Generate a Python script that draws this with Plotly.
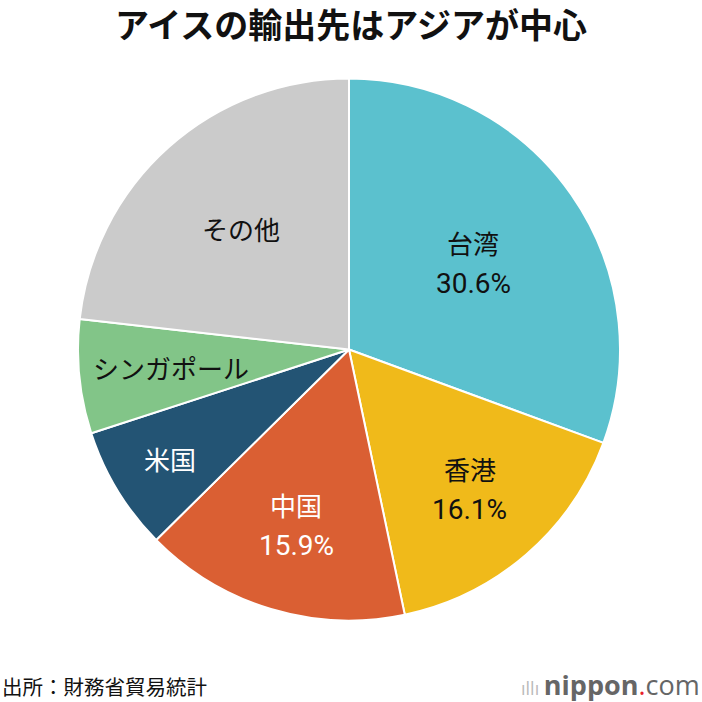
import math
import plotly.graph_objects as go

categories = ["台湾", "香港", "中国", "米国", "シンガポール", "その他"]
shares = [30.6, 16.1, 15.9, 7.4, 6.8, 23.2]
show_pct = [True, True, True, False, False, False]
colors = ["#5BC1CE", "#F0BA1A", "#DA5F33", "#235474", "#82C588", "#CBCBCB"]
text_colors = ["#111111", "#111111", "#FFFFFF", "#FFFFFF", "#111111", "#111111"]
label_radius = [0.56, 0.68, 0.675, 0.775, 0.66, 0.60]

W = H = 702
cx, cy, R = 349, 349.5, 271
FONT = "Noto Sans CJK JP"
NUMFONT = "Liberation Sans Narrow, Roboto, Noto Sans CJK JP"

fig = go.Figure(go.Pie(
    labels=categories, values=shares, sort=False, direction="clockwise",
    rotation=0, marker=dict(colors=colors, line=dict(color="white", width=2)),
    textinfo="none", hoverinfo="label+percent", showlegend=False,
    domain=dict(x=[(cx - R) / W, (cx + R) / W], y=[1 - (cy + R) / H, 1 - (cy - R) / H]),
))

total = sum(shares)
cum = 0
annotations = []
base = dict(xref="paper", yref="paper", showarrow=False, xanchor="center", yanchor="middle")
for name, v, sp, tc, rf in zip(categories, shares, show_pct, text_colors, label_radius):
    mid = (cum + v / 2) / total * 2 * math.pi
    cum += v
    px = cx + rf * R * math.sin(mid)
    py = cy - rf * R * math.cos(mid)
    xp, yp = px / W, 1 - py / H
    if sp:
        annotations.append(dict(base, x=xp, y=yp, text=name, yshift=20,
                                font=dict(family=FONT, size=26, color=tc)))
        annotations.append(dict(base, x=xp, y=yp, text=f"{v:.1f}%", yshift=-21,
                                font=dict(family=NUMFONT, size=28, color=tc)))
    else:
        annotations.append(dict(base, x=xp, y=yp, text=name,
                                font=dict(family=FONT, size=26, color=tc)))

annotations.append(dict(base, x=0.5, y=1 - 24 / H,
                        text="<b>アイスの輸出先はアジアが中心</b>",
                        font=dict(family=FONT, size=34, color="#111111")))
annotations.append(dict(base, x=0, y=1 - 686 / H, xanchor="left",
                        text="出所：財務省貿易統計",
                        font=dict(family=FONT, size=20.5, color="#111111")))
annotations.append(dict(base, x=1, y=1 - 684 / H, xanchor="right",
                        text="<span style='color:#BBBBBB;font-size:18px'>ıllı </span><b>nippon</b><span style='color:#E8202A'>.</span>com",
                        font=dict(family="Open Sans", size=27, color="#666666")))

fig.update_layout(width=W, height=H, margin=dict(l=0, r=0, t=0, b=0),
                  paper_bgcolor="white", plot_bgcolor="white", annotations=annotations)
fig.write_html("out.html")
